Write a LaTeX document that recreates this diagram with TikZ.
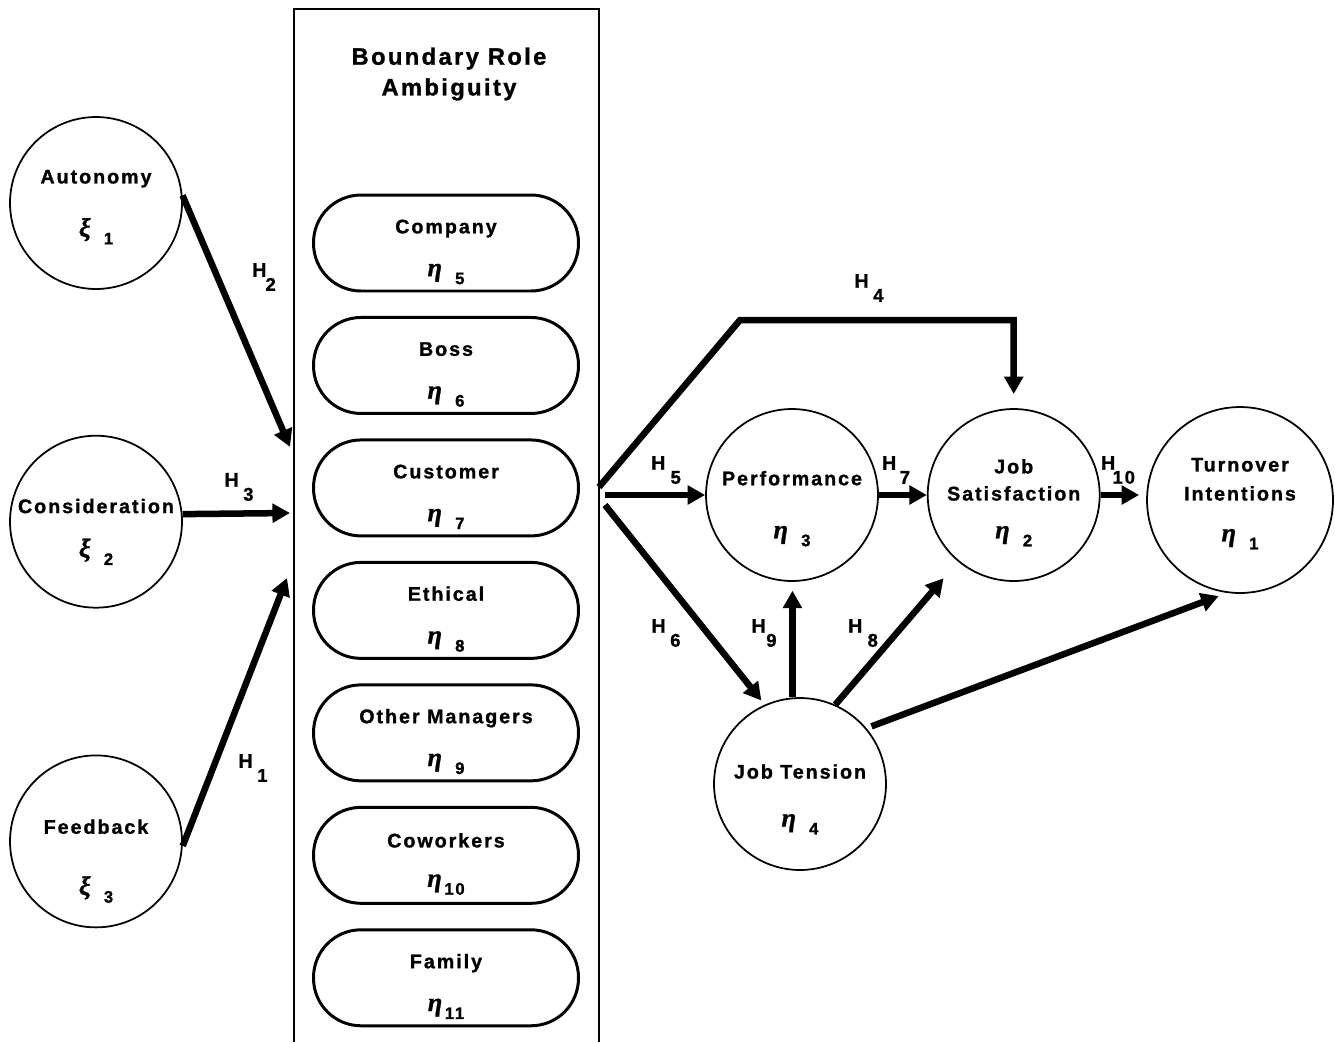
\documentclass[tikz,border=0pt]{standalone}
\usepackage{amsmath}
\usepackage{amssymb}
\usepackage{fontspec}
\setmainfont{Liberation Sans}[LetterSpace=10, BoldFeatures={FakeBold=1.2}]
\newfontfamily\greekfont{Liberation Serif}[BoldItalicFeatures={FakeBold=1}]
\usetikzlibrary{positioning, arrows.meta}

\newcommand{\padtop}[1]{\rule{0pt}{#1}}
\newcommand{\gsym}[3][7.5pt]{{\greekfont\fontsize{15}{15}\selectfont\bfseries\itshape #2}\kern#1\raisebox{-4.5pt}{\fontsize{9.5}{9.5}\selectfont #3}}
\newcommand{\hyp}[2][3pt]{H\kern#1\raisebox{-8pt}{\fontsize{10.5}{10.5}\selectfont #2}}

\begin{document}
\begin{tikzpicture}[x=0.02cm, y=-0.02cm,
    every node/.style={font=\fontsize{11.2}{13.4}\selectfont\bfseries, align=center},
    latent/.style={circle, draw, line width=1pt, minimum size=3.44cm, inner sep=-20pt},
    facet/.style={rectangle, rounded corners=0.95cm, draw, line width=1.7pt, minimum width=5.3cm, minimum height=1.92cm, inner sep=0pt},
    link/.style={line width=3.7pt, -{Triangle[length=10pt, width=10.5pt]}},
    hyplabel/.style={inner sep=0pt}]
        \useasboundingbox (0,0) rectangle (1335,1042);

        % boundary role ambiguity panel
        \draw[line width=0.7pt] (294,1042) -- (294,9) -- (599,9) -- (599,1042);
        \node[font=\fontsize{13.5}{17.5}\selectfont\bfseries](title) at (449,74){Boundary Role\\Ambiguity};

        \node[facet](company) at (446,243){\padtop{18pt}Company\\[11pt]\gsym{η}{5}};
        \node[facet](boss)[below = 0.47cm of company]{\padtop{18pt}Boss\\[11pt]\gsym{η}{6}};
        \node[facet](customer)[below = 0.47cm of boss]{\padtop{18pt}Customer\\[11pt]\gsym{η}{7}};
        \node[facet](ethical)[below = 0.47cm of customer]{\padtop{18pt}Ethical\\[11pt]\gsym{η}{8}};
        \node[facet](othermgr)[below = 0.47cm of ethical]{\padtop{18pt}Other Managers\\[11pt]\gsym{η}{9}};
        \node[facet](coworkers)[below = 0.47cm of othermgr]{\padtop{18pt}Coworkers\\[9pt]\gsym[1.5pt]{η}{10}};
        \node[facet](family)[below = 0.47cm of coworkers]{\padtop{18pt}Family\\[11pt]\gsym[1.5pt]{η}{11}};

        % exogenous constructs
        \node[latent](autonomy) at (96,203){\padtop{12.4pt}Autonomy\\[16.8pt]\gsym{ξ}{1}};
        \node[latent](consid)[below = 2.9cm of autonomy]{\padtop{19.7pt}Consideration\\[11.6pt]\gsym{ξ}{2}};
        \node[latent](feedback)[below = 2.92cm of consid]{\padtop{30.6pt}Feedback\\[21.3pt]\gsym{ξ}{3}};

        % outcomes
        \node[latent](perf) at (792,495){\padtop{23.7pt}Performance\\[16.8pt]\gsym{η}{3}};
        \node[latent](jobsat)[right = 0.96cm of perf]{\padtop{16.9pt}Job\\[2pt]Satisfaction\\[8.2pt]\gsym{η}{2}};
        \node[latent, minimum size=3.72cm](turnover) at (1240,500){\padtop{11.8pt}Turnover\\[3.1pt]Intentions\\[9.9pt]\gsym{η}{1}};
        \node[latent](jobten) at (800,784){\padtop{25.6pt}Job Tension\\[13.9pt]\gsym{η}{4}};

        \coordinate (inA) at (290,447);
        \coordinate (inB) at (290,513);
        \coordinate (inC) at (287,578);
        \coordinate (outA) at (599,487);
        \coordinate (outB) at (605,495);
        \coordinate (outC) at (605,505);
        \coordinate (bend) at (740,320);

        \path[link]
        (autonomy.5) edge (inA)
        (consid.5) edge (inB)
        (feedback.-3) edge (inC)
        (outB) edge (perf.west)
        (outC) edge[shorten >=3pt] (jobten.114)
        (perf.east) edge (jobsat.west)
        (jobsat.east) edge[shorten >=4pt] (jobsat.east -| turnover.west)
        (jobten.95) edge[shorten >=5pt] (jobten.95 |- perf.south)
        (jobten.66) edge[shorten >=12.5pt] (jobsat.230)
        (jobten.40) edge[shorten <=3pt, shorten >=5pt] (turnover.262)
        ;
        \draw[link, shorten >=8pt] (outA) -- (bend) -| (jobsat.north);

        % hypothesis labels
        \node[hyplabel](h1) at (253,768){\hyp[2.6pt]{1}};
        \node[hyplabel](h2) at (264,277){\hyp[-0.5pt]{2}};
        \node[hyplabel](h3) at (239,487){\hyp[2.6pt]{3}};
        \node[hyplabel](h4) at (869,288){\hyp[2.6pt]{4}};
        \node[hyplabel](h5) at (666,470){\hyp{5}};
        \node[hyplabel](h6) at (666,633){\hyp[2.6pt]{6}};
        \node[hyplabel](h7) at (896,470){\hyp[2pt]{7}};
        \node[hyplabel](h8) at (863,633){\hyp{8}};
        \node[hyplabel](h9) at (764,633){\hyp[0.3pt]{9}};
        \node[hyplabel](h10) at (1118,470){\hyp[-1.5pt]{10}};
    \end{tikzpicture}
\end{document}
